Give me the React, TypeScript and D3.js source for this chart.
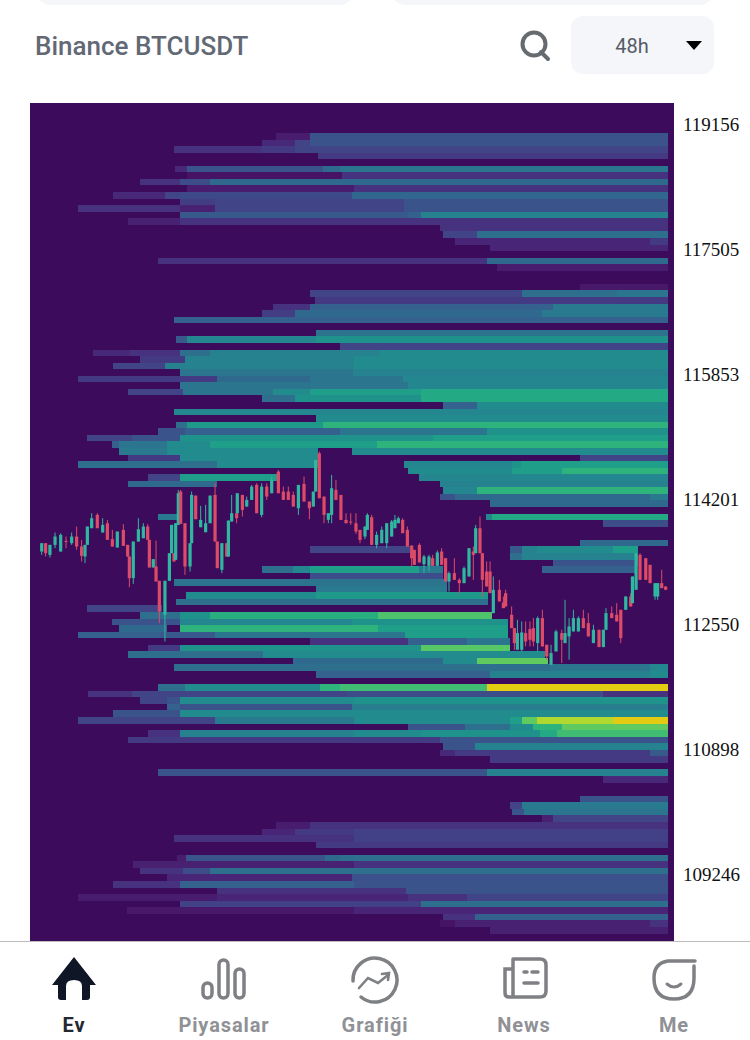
import { useEffect, useRef } from "react";
import * as d3 from "d3";

// price axis
const priceTicks = [119156, 117505, 115853, 114201, 112550, 110898, 109246];
const heatTopPrice = 119037;
const heatBinSize = 86.7;

// heat rows from the top of the book, each segment is [start hour, intensity] and runs to the next one
type Seg = [number, number];
const upperRows: Seg[][] = [
  [[18, 0.05], [20.65, 0.2]],
  [[17, 0.08], [19.5, 0.15], [20.65, 0.2]],
  [[10.25, 0.1], [17, 0.12], [19.5, 0.15]],
  [[21.25, 0.12]],
  [],
  [[10.3, 0.08], [11.25, 0.2], [21.65, 0.28], [22.95, 0.33]],
  [[11.25, 0.03], [23.1, 0.1]],
  [[7.65, 0.1], [10.7, 0.18], [13, 0.28]],
  [[11.25, 0.05], [24, 0.1]],
  [[5.6, 0.08], [9.55, 0.15], [10.7, 0.17], [23.85, 0.27]],
  [[10.7, 0.13], [13.4, 0.15], [27.85, 0.2]],
  [[2.9, 0.1], [10.7, 0.06], [13.4, 0.15], [27.85, 0.2]],
  [[10.7, 0.22], [28.15, 0.25], [29.15, 0.38]],
  [[6.7, 0.06], [10.7, 0.1]],
  [[30.6, 0.1]],
  [[30.8, 0.15], [33.4, 0.3]],
  [[31.7, 0.07], [46.65, 0.12]],
  [[34.4, 0.07]],
  [],
  [[9, 0.1], [34.2, 0.28]],
  [[34.95, 0.05]],
  [],
  [],
  [[41.3, 0.04]],
  [[20.65, 0.15], [36.1, 0.15], [36.85, 0.3], [44.1, 0.33]],
  [[21, 0.12]],
  [[17.8, 0.1], [20.65, 0.25], [39.2, 0.35]],
  [[17, 0.13], [19.5, 0.28], [38.4, 0.35]],
  [[10.25, 0.25]],
  [],
  [[21.1, 0.32]],
  [[10.4, 0.22], [11.25, 0.4], [21.1, 0.45]],
  [[22.95, 0.15]],
  [[4.05, 0.08], [6.9, 0.1], [10.7, 0.3], [13, 0.38], [26, 0.42]],
  [[7.65, 0.12], [11.1, 0.38], [24, 0.42]],
  [[5.6, 0.15], [9.55, 0.38], [23.9, 0.42]],
  [[10.7, 0.33], [23.9, 0.38]],
  [[2.9, 0.12], [13.55, 0.28], [20.65, 0.33], [27.75, 0.4]],
  [[10.7, 0.33], [28.15, 0.4]],
  [[6.7, 0.15], [10.9, 0.33], [17.8, 0.42], [20.65, 0.5], [29.15, 0.55]],
  [[17, 0.3], [19.5, 0.45], [29.15, 0.55]],
];
const middleRows: Seg[][] = [
  [[30.8, 0.25], [33.4, 0.42]],
  [[10.25, 0.4]],
  [[21.1, 0.42]],
  [[10.4, 0.3], [11.25, 0.48], [21.65, 0.6]],
  [[9, 0.2], [11.1, 0.25], [22.95, 0.33], [34.2, 0.45]],
  [[3.6, 0.15], [7, 0.2], [10.7, 0.45], [30, 0.5]],
  [[5.5, 0.25], [6, 0.33], [9.7, 0.42], [13, 0.5], [25.75, 0.6]],
  [[6, 0.35], [9.7, 0.42], [21.25, 0], [23.85, 0.42]],
  [[6.7, 0.12], [10.7, 0.42], [21.25, 0], [41.3, 0.15]],
  [[2.9, 0.3], [13.55, 0.42], [21.25, 0], [27.85, 0.4], [36.1, 0.45], [36.75, 0.5]],
  [[28.15, 0.42], [36.1, 0.5], [39.9, 0.6]],
  [[8.25, 0.15], [10.7, 0.5], [18.1, 0], [29, 0.4]],
  [[6.7, 0.28], [13.55, 0], [30.6, 0.38]],
  [[30.8, 0.4], [33.4, 0.6]],
  [[30.6, 0.2], [31.7, 0.28], [46.65, 0.35]],
  [[34.4, 0.28]],
  [],
  [[9, 0.35], [10.5, 0], [34.1, 0.4], [34.55, 0.55]],
  [[43.05, 0.18]],
  [],
  [],
  [[41.3, 0.28]],
  [[20.65, 0.15], [28.3, 0], [35.95, 0.22], [36.85, 0.38], [38, 0.42], [43.8, 0.5], [45.7, 0]],
  [[35.95, 0.3], [36.85, 0.38], [45.7, 0]],
  [[39.2, 0.2], [45.7, 0]],
  [[17, 0.3], [19.35, 0.4], [20.65, 0.5], [29, 0.35], [30.8, 0], [38.4, 0.25], [45.5, 0]],
  [[20.65, 0.18], [30.8, 0]],
  [[10.25, 0.32], [31.1, 0]],
  [[21.1, 0.35], [31.1, 0]],
  [[11.15, 0.42], [21.1, 0.48], [34.25, 0]],
  [[10.4, 0.3], [34.25, 0]],
  [[3.6, 0.15], [9.3, 0]],
  [[7.65, 0.3], [10.7, 0.45], [13, 0.58], [25.85, 0.68], [34.55, 0]],
  [[5.5, 0.2], [10.7, 0.4], [23.85, 0.45], [35.8, 0]],
  [[6, 0.28], [9.7, 0], [10.7, 0.6], [25.85, 0.5], [35.8, 0]],
  [[2.9, 0.25], [9.2, 0.22], [13.4, 0.33], [27.9, 0.5], [35.8, 0]],
  [[20.65, 0.1], [28.15, 0.25], [32.65, 0.33], [35.95, 0]],
  [[8.25, 0.12], [10.7, 0.45], [29.15, 0.7], [35.95, 0]],
  [[6.7, 0.3], [17.05, 0.42], [38.6, 0]],
  [[19.35, 0.28], [30.8, 0.42], [33.4, 0.72], [38.85, 0]],
];
const lowerRows: Seg[][] = [
  [[10.25, 0.3], [39, 0.33], [46.65, 0.4]],
  [[21.1, 0.25], [34.4, 0.38], [46.65, 0.42]],
  [],
  [[9, 0.3], [11.1, 0.42], [21.4, 0.6], [22.95, 0.65], [34.2, 0.97]],
  [[3.7, 0.1], [7, 0.15], [23.45, 0.18], [43.05, 0.1]],
  [[7.65, 0.15], [9.7, 0.2], [10.7, 0.42], [24, 0.45]],
  [[9.7, 0.25], [10.7, 0.2], [23.85, 0.36]],
  [[5.6, 0.2], [10.7, 0.42]],
  [[2.9, 0.15], [13.4, 0.35], [24, 0.42], [35.95, 0.5], [36.85, 0.72], [38, 0.85], [43.8, 0.98]],
  [[28.15, 0.2], [32.5, 0.3], [35.95, 0.42], [37.7, 0.6], [39.9, 0.72]],
  [[8.25, 0.1], [10.7, 0.38], [24, 0.42], [29.15, 0.45], [38.25, 0.55], [39.5, 0.65]],
  [[6.7, 0.12], [30.6, 0.2]],
  [[30.8, 0.2], [33.25, 0.38]],
  [[30.6, 0.08], [31.7, 0.12], [46.65, 0.22]],
  [[34.4, 0.12]],
  [],
  [[9, 0.2], [34.2, 0.38]],
  [[43.05, 0.08]],
  [],
  [],
  [[41.3, 0.2]],
  [[35.95, 0.15], [36.85, 0.35]],
  [[36.1, 0.2], [37, 0.33]],
  [[38.4, 0.06], [39.2, 0.15]],
  [[18, 0.05], [20.65, 0.1]],
  [[17, 0.07], [19.5, 0.12], [24, 0.14]],
  [[10.25, 0.1], [24, 0.14]],
  [[21.1, 0.12]],
  [],
  [[10.5, 0.05], [11.15, 0.2], [21.8, 0.28], [22.95, 0.3]],
  [[7.1, 0.06], [24, 0.1]],
  [[7.65, 0.1], [10.9, 0.18], [13, 0.3]],
  [[9.7, 0.07], [23.85, 0.19]],
  [[5.6, 0.1], [10.7, 0.25], [24, 0.2]],
  [[13.55, 0.1], [28, 0.2]],
  [[2.9, 0.05], [13.55, 0.07], [28.15, 0.1], [32.65, 0.15]],
  [[10.7, 0.14], [29.15, 0.3]],
  [[6.65, 0.04], [24, 0.07]],
  [[30.8, 0.1], [33.25, 0.25]],
  [[30.6, 0.03], [31.7, 0.06], [46.65, 0.1]],
  [[34.4, 0.06]],
];

// [hour, open, high, low, close]
const candles: number[][] = [
  [0.13, 113507, 113617, 113463, 113617], [0.43, 113617, 113617, 113441, 113485], [0.76, 113463, 113595, 113428, 113595],
  [1.15, 113595, 113758, 113551, 113705], [1.58, 113507, 113749, 113507, 113727], [1.99, 113648, 113705, 113551, 113640],
  [2.42, 113617, 113758, 113595, 113705], [2.8, 113705, 113837, 113529, 113573], [3.18, 113573, 113661, 113375, 113450],
  [3.44, 113441, 113595, 113353, 113595], [3.62, 113595, 113837, 113595, 113837], [3.95, 113815, 114013, 113815, 113947],
  [4.38, 113991, 114013, 113815, 113815], [4.79, 113758, 113947, 113758, 113859], [5.15, 113881, 113925, 113661, 113661],
  [5.53, 113670, 113793, 113573, 113573], [5.91, 113560, 113771, 113560, 113771], [6.37, 113793, 113868, 113582, 113582],
  [6.7, 113595, 113595, 113441, 113441], [6.83, 113441, 113441, 113036, 113155], [7.13, 113155, 113639, 113080, 113639],
  [7.52, 113639, 113947, 113639, 113802], [7.9, 113683, 113881, 113683, 113837], [8.23, 113837, 113868, 113661, 113661],
  [8.36, 113661, 113661, 113296, 113296], [8.66, 113296, 113406, 113296, 113406], [8.87, 113309, 113652, 113111, 113111],
  [9.12, 113120, 113120, 112561, 112715], [9.55, 112671, 113120, 112319, 113120], [9.89, 113120, 113485, 113120, 113485],
  [10.06, 113485, 113859, 113485, 113859], [10.24, 113485, 113485, 113375, 113375], [10.37, 113397, 113881, 113397, 113881],
  [10.57, 113859, 114321, 113859, 114277], [10.75, 114299, 114321, 113872, 113872], [11.08, 113881, 113881, 113199, 113309],
  [11.47, 113309, 113617, 113243, 113617], [11.59, 113617, 114299, 113617, 114255], [11.9, 114246, 114246, 113934, 113934],
  [12.28, 113828, 114110, 113828, 113925], [12.66, 113762, 114123, 113762, 113881], [13, 113881, 114246, 113881, 114246],
  [13.38, 114255, 114409, 113639, 113639], [13.55, 113639, 113639, 113287, 113287], [13.9, 113265, 113617, 113221, 113617],
  [14.27, 113617, 113617, 113441, 113441], [14.4, 113441, 113916, 113441, 113916], [14.65, 113903, 114255, 113903, 114013],
  [15.03, 114013, 114013, 113881, 113947], [15.08, 114013, 114277, 114013, 114277], [15.47, 114255, 114255, 113969, 114057],
  [15.8, 114101, 114233, 114101, 114189], [16.18, 114189, 114387, 114189, 114365], [16.56, 114387, 114409, 114013, 114013],
  [16.94, 113991, 114409, 113960, 114365], [17.33, 114365, 114409, 114189, 114233], [17.71, 114277, 114497, 114277, 114453],
  [18.22, 114563, 114585, 114277, 114277], [18.6, 114299, 114365, 114189, 114189], [18.98, 114299, 114365, 114189, 114189],
  [19.36, 114255, 114299, 114101, 114101], [19.75, 114079, 114387, 113991, 114387], [20.18, 114400, 114497, 114167, 114167],
  [20.59, 114167, 114167, 113934, 114079], [20.89, 114101, 114299, 114101, 114299], [21.07, 114299, 114717, 114299, 114717],
  [21.35, 114805, 114827, 114211, 114211], [21.71, 114233, 114233, 113881, 113991], [22.04, 113925, 114013, 113881, 114013],
  [22.29, 113991, 114519, 113881, 114343], [22.62, 114321, 114453, 114189, 114189], [23, 114255, 114255, 113925, 113925],
  [23.39, 113925, 114013, 113881, 113881], [23.75, 113903, 114013, 113859, 113895], [24.15, 113881, 114013, 113740, 113771],
  [24.46, 113793, 113793, 113617, 113661], [24.84, 113705, 113837, 113670, 113837], [25.02, 113793, 114013, 113793, 113991],
  [25.35, 113960, 113991, 113595, 113595], [25.73, 113595, 113771, 113551, 113727], [26.12, 113617, 113837, 113617, 113793],
  [26.5, 113617, 113881, 113551, 113881], [26.88, 113705, 113925, 113705, 113903], [27.13, 113815, 113991, 113815, 113925],
  [27.39, 113881, 113969, 113881, 113947], [27.72, 113925, 113947, 113749, 113749], [28.08, 113793, 113837, 113573, 113573],
  [28.41, 113586, 113586, 113309, 113419], [28.61, 113529, 113529, 113331, 113331], [29, 113595, 113617, 113362, 113362],
  [29.35, 113340, 113463, 113221, 113441], [29.73, 113318, 113463, 113243, 113441], [30.01, 113419, 113463, 113318, 113318],
  [30.37, 113318, 113520, 113318, 113494], [30.7, 113507, 113551, 113331, 113331], [31, 113419, 113419, 113111, 113111],
  [31.26, 113111, 113243, 112979, 113221], [31.67, 113221, 113419, 113133, 113133], [32.05, 113133, 113155, 112957, 113089],
  [32.41, 113089, 113309, 113089, 113287], [32.79, 113177, 113551, 113177, 113551], [33.12, 113507, 113573, 113133, 113463],
  [33.3, 113485, 113859, 113485, 113815], [33.63, 113815, 113969, 113485, 113485], [33.81, 113485, 113485, 112913, 113133],
  [34.14, 113243, 113375, 113045, 113045], [34.4, 113243, 113375, 112957, 112957], [34.65, 112693, 113177, 112693, 113001],
  [35.11, 113001, 113133, 112847, 112847], [35.42, 112834, 112913, 112759, 112759], [35.59, 112957, 113001, 112781, 112781],
  [36.05, 112671, 112781, 112495, 112495], [36.26, 112495, 112495, 112209, 112297], [36.49, 112209, 112605, 112209, 112429],
  [36.82, 112209, 112583, 112187, 112438], [37.12, 112429, 112583, 112253, 112319], [37.45, 112482, 112583, 112253, 112341],
  [37.71, 112495, 112627, 112253, 112319], [38.04, 112297, 112649, 112187, 112627], [38.4, 112627, 112737, 112253, 112253],
  [38.73, 112275, 112275, 112077, 112121], [39.06, 112011, 112275, 112011, 112165], [39.44, 112187, 112473, 112187, 112451],
  [39.88, 112429, 112473, 112033, 112341], [40.13, 112297, 112869, 112297, 112429], [40.44, 112385, 112627, 112077, 112517],
  [40.77, 112451, 112737, 112451, 112627], [41.15, 112451, 112649, 112451, 112627], [41.53, 112627, 112737, 112495, 112495],
  [41.91, 112561, 112693, 112385, 112385], [42.3, 112297, 112539, 112297, 112473], [42.73, 112473, 112473, 112244, 112244],
  [43.06, 112244, 112473, 112244, 112473], [43.26, 112473, 112759, 112473, 112693], [43.7, 112693, 112781, 112627, 112627],
  [44.08, 112671, 112825, 112583, 112583], [44.39, 112737, 112737, 112297, 112363], [44.77, 112737, 112913, 112737, 112913],
  [45.15, 112913, 112957, 112781, 112781], [45.28, 112825, 113177, 112825, 113177], [45.56, 113001, 113485, 113001, 113485],
  [45.86, 113463, 113485, 113133, 113133], [46.3, 113419, 113419, 113133, 113133], [46.63, 113331, 113331, 113089, 113089],
  [47.01, 112913, 113089, 112869, 113089], [47.21, 112913, 113089, 112869, 113089], [47.52, 113089, 113265, 113023, 113023],
  [47.82, 113045, 113045, 112997, 113001],
];

const navLabels = ["Ev", "Piyasalar", "Grafiği", "News", "Me"];

function App() {
  const ref = useRef<SVGSVGElement>(null);

  useEffect(() => {
    if (!ref.current) return;
    const svg = d3.select(ref.current);
    svg.selectAll("*").remove();

    const x = d3.scaleLinear().domain([0, 48]).range([40, 668]);
    const y = d3.scaleLinear().domain([109246, 119156]).range([874, 124]);
    // viridis, lifted a bit in the low end, top colour is a duller yellow in the screenshot
    const color = (v: number) => {
      const t = Math.pow(v, 0.85);
      return d3.interpolateRgb(d3.interpolateViridis(t), "#e0c810")(Math.max(0, (t - 0.85) / 0.15));
    };

    // top bar
    svg.append("rect").attr("x", 35).attr("y", -30).attr("width", 320).attr("height", 35).attr("rx", 16).attr("fill", "#f4f6f9");
    svg.append("rect").attr("x", 390).attr("y", -30).attr("width", 325).attr("height", 35).attr("rx", 16).attr("fill", "#f4f6f9");
    svg.append("text").attr("x", 35).attr("y", 55).attr("font-family", "Roboto").attr("font-weight", 500).attr("font-size", 26).attr("fill", "#626975").text("Binance BTCUSDT");
    svg.append("circle").attr("cx", 534).attr("cy", 44).attr("r", 11.5).attr("fill", "none").attr("stroke", "#666b70").attr("stroke-width", 4);
    svg.append("line").attr("x1", 541).attr("y1", 52).attr("x2", 548).attr("y2", 59).attr("stroke", "#666b70").attr("stroke-width", 4).attr("stroke-linecap", "round");
    svg.append("rect").attr("x", 571).attr("y", 16).attr("width", 143).attr("height", 58).attr("rx", 12).attr("fill", "#f4f6f9");
    svg.append("text").attr("x", 632).attr("y", 53).attr("text-anchor", "middle").attr("font-family", "Roboto").attr("font-size", 20).attr("fill", "#555b66").text("48h");
    svg.append("path").attr("d", "M686,41L702,41L694,50Z").attr("fill", "#000");

    // heatmap
    svg.append("rect").attr("x", 30).attr("y", 103).attr("width", 644).attr("height", 839).attr("fill", "#3d0b5b");
    const rows = [...upperRows, ...middleRows, ...lowerRows];
    const heat = svg.append("g").attr("shape-rendering", "crispEdges");
    rows.forEach((segs, k) => {
      const top = heatTopPrice - k * heatBinSize;
      segs.forEach((seg, i) => {
        if (seg[1] === 0) return;
        const end = i + 1 < segs.length ? segs[i + 1][0] : 48;
        heat
          .append("rect")
          .attr("x", x(seg[0]))
          .attr("y", y(top))
          .attr("width", x(end) - x(seg[0]))
          .attr("height", y(top - heatBinSize) - y(top))
          .attr("fill", color(seg[1]));
      });
    });

    // candles
    const candleG = svg.append("g");
    candles.forEach(([hour, open, high, low, close]) => {
      const c = close >= open ? "#2fb8a0" : "#dc4c68";
      candleG.append("line").attr("x1", x(hour)).attr("x2", x(hour)).attr("y1", y(high)).attr("y2", y(low)).attr("stroke", c).attr("stroke-width", 1);
      candleG
        .append("rect")
        .attr("x", x(hour) - 1.6)
        .attr("y", y(Math.max(open, close)))
        .attr("width", 3.2)
        .attr("height", Math.max(1, Math.abs(y(open) - y(close))))
        .attr("fill", c);
    });

    // price labels
    svg
      .selectAll(".tick-label")
      .data(priceTicks)
      .enter()
      .append("text")
      .attr("class", "tick-label")
      .attr("x", 683)
      .attr("y", (d) => y(d) + 7)
      .attr("font-family", "Liberation Serif")
      .attr("font-size", 19)
      .attr("fill", "#111")
      .text((d) => d);

    // bottom nav
    svg.append("rect").attr("x", 0).attr("y", 942).attr("width", 750).attr("height", 98).attr("fill", "#fff");
    svg.append("line").attr("x1", 0).attr("x2", 750).attr("y1", 941.5).attr("y2", 941.5).attr("stroke", "#bcbcbc");
    const navX = [74, 224, 375, 524, 674];
    svg
      .selectAll(".nav")
      .data(navLabels)
      .enter()
      .append("text")
      .attr("class", "nav")
      .attr("x", (_, i) => navX[i])
      .attr("y", 1032)
      .attr("text-anchor", "middle")
      .attr("font-family", "Roboto")
      .attr("font-weight", 700)
      .attr("font-size", 20)
      .attr("letter-spacing", 0.9)
      .attr("fill", (_, i) => (i === 0 ? "#252830" : "#8f9196"))
      .text((d) => d);

    // nav icons
    svg.append("path").attr("d", "M74,957L96,985L90,985L90,997Q90,1000 87,1000L82,1000L82,986Q82,980 74,980Q66,980 66,986L66,1000L61,1000Q58,1000 58,997L58,985L52,985Z").attr("fill", "#0f1726");
    const grey = "#7e8084";
    const icons = svg.append("g").attr("fill", "none").attr("stroke", grey).attr("stroke-width", 3.5).attr("stroke-linecap", "round");
    icons.append("rect").attr("x", 203).attr("y", 983).attr("width", 9).attr("height", 15).attr("rx", 4.5);
    icons.append("rect").attr("x", 219).attr("y", 960).attr("width", 9).attr("height", 38).attr("rx", 4.5);
    icons.append("rect").attr("x", 235).attr("y", 969).attr("width", 9).attr("height", 29).attr("rx", 4.5);
    icons.append("path").attr("d", "M353,981A22,22 0 1 1 361,997");
    icons.append("path").attr("d", "M359,988L368,978L378,983L388,975M382,974L389,973L388,980").attr("stroke-width", 2.6);
    icons.append("path").attr("d", "M513,959L540,959Q546,959 546,965L546,991Q546,997 540,997L509,997Q505,997 505,993L505,969L513,969M513,959L513,997");
    icons.append("path").attr("d", "M524,972L527,972M532,972L538,972M524,983L538,983");
    icons.append("path").attr("d", "M695,961L668,961Q654,963 654,978Q654,999 674,999Q694,999 694,978L694,966");
    icons.append("path").attr("d", "M667,984Q674,990 681,984").attr("stroke-width", 3);
  }, []);

  return <svg ref={ref} width={750} height={1040} style={{ position: "absolute", left: 0, top: 0, background: "#fff" }} />;
}

export default App;
